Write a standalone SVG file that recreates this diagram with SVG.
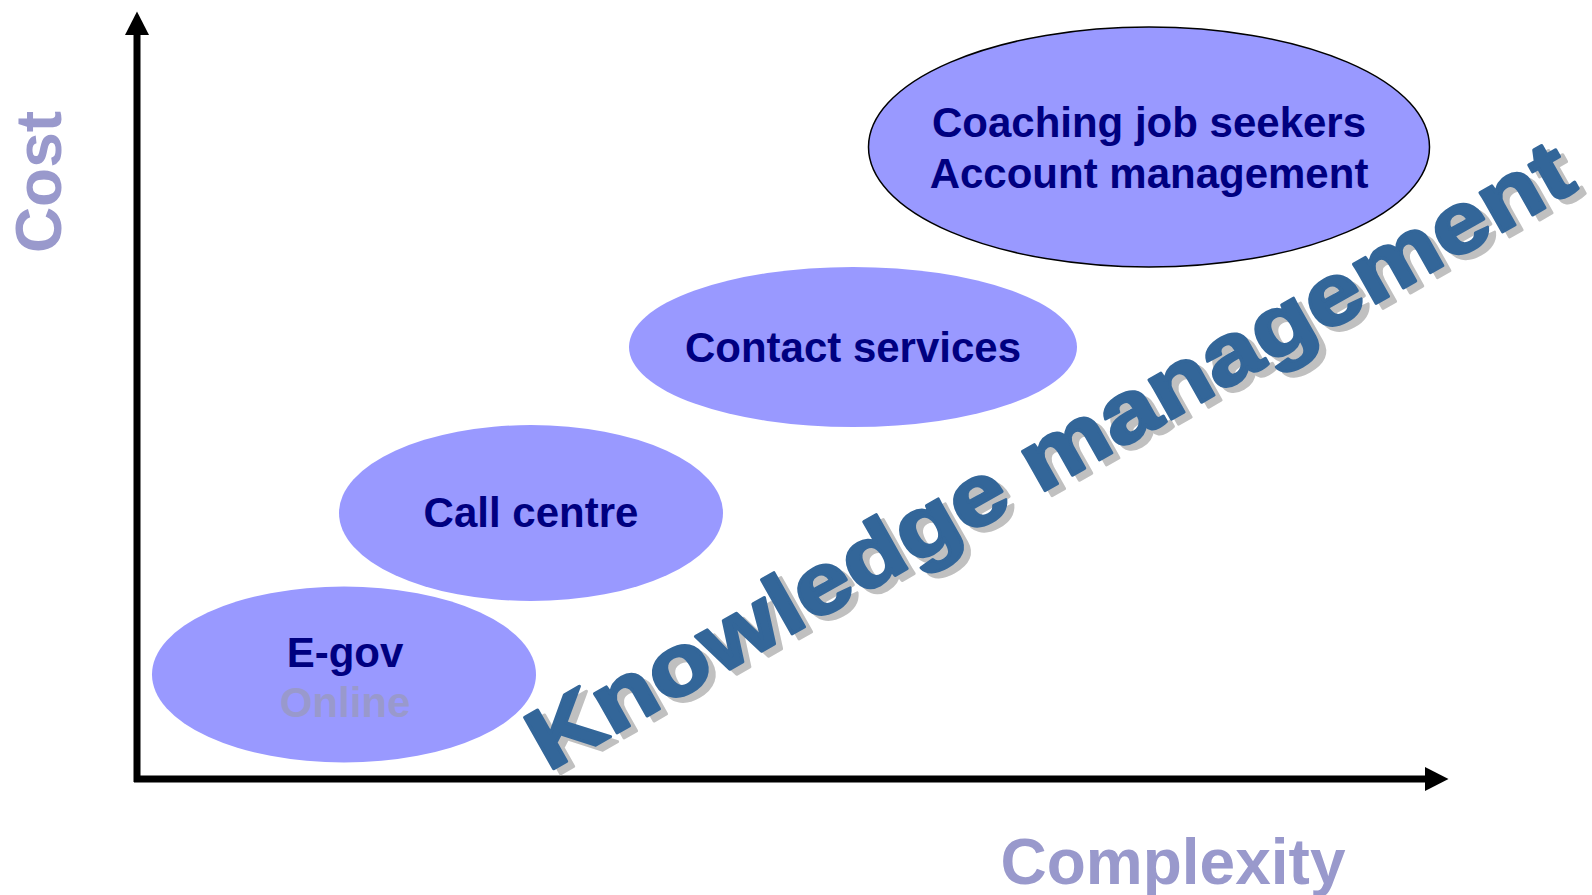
<svg xmlns="http://www.w3.org/2000/svg" width="1592" height="895" viewBox="0 0 1592 895">
  <style>
    .node { fill: #9999FF; }
    .label { font-family: "Liberation Sans", Arial, sans-serif; font-weight: bold; font-size: 42px; fill: #000080; text-anchor: middle; }
    .axis-label { font-family: "Liberation Sans", Arial, sans-serif; font-weight: bold; font-size: 64px; fill: #9999CC; text-anchor: middle; }
    .axis { stroke: #000000; stroke-width: 7; fill: none; }
    .km { font-family: "Liberation Sans", Arial, sans-serif; font-weight: bold; font-size: 86px; stroke-width: 3; stroke-linejoin: round; }
  </style>
  <defs>
    <marker id="arrow" markerUnits="userSpaceOnUse" markerWidth="24" markerHeight="24" viewBox="0 0 24 24" refX="0" refY="12" orient="auto">
      <path d="M0,0 L23.5,12 L0,24 Z" fill="#000000"/>
    </marker>
  </defs>
  <rect width="1592" height="895" fill="#FFFFFF"/>

  <g id="connectors">
    <line class="axis" x1="137" y1="782" x2="137" y2="35" marker-end="url(#arrow)"/>
    <line class="axis" x1="134" y1="779" x2="1425" y2="779" marker-end="url(#arrow)"/>
  </g>

  <g id="node-egov">
    <ellipse class="node" cx="344" cy="674.5" rx="192" ry="88"/>
    <text class="label" x="345" y="667">E-gov</text>
    <text class="label" x="345" y="717" style="fill:#9999CC">Online</text>
  </g>

  <g id="node-callcentre">
    <ellipse class="node" cx="531" cy="513" rx="192" ry="88"/>
    <text class="label" x="531" y="527">Call centre</text>
  </g>

  <g id="node-contact">
    <ellipse class="node" cx="853" cy="347" rx="224" ry="80"/>
    <text class="label" x="853" y="362">Contact services</text>
  </g>

  <g id="node-coaching">
    <ellipse class="node" cx="1149" cy="147" rx="280.5" ry="120" stroke="#000000" stroke-width="1.5"/>
    <text class="label" x="1149" y="137">Coaching job seekers</text>
    <text class="label" x="1149" y="188">Account management</text>
  </g>

  <g id="knowledge-management">
    <text class="km" fill="#C0C0C0" stroke="#C0C0C0" transform="translate(555,777) rotate(-29.5)" textLength="1185" lengthAdjust="spacingAndGlyphs">Knowledge management</text>
    <text class="km" fill="#336699" stroke="#336699" transform="translate(548,772) rotate(-29.5)" textLength="1185" lengthAdjust="spacingAndGlyphs">Knowledge management</text>
  </g>

  <g id="axis-labels">
    <text class="axis-label" transform="translate(61,182) rotate(-90)">Cost</text>
    <text class="axis-label" x="1173" y="884">Complexity</text>
  </g>
</svg>
